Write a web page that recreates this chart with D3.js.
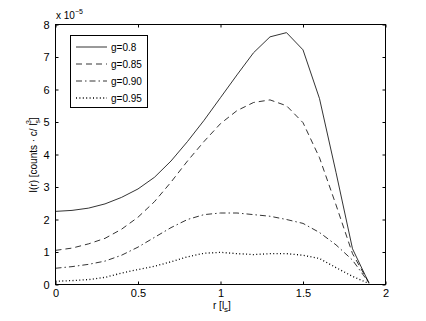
<!DOCTYPE html>
<html><head><meta charset="utf-8">
<script src="https://cdn.jsdelivr.net/npm/d3@7"></script>
<style>body{margin:0;background:#fff}svg{display:block}text{font-family:"Liberation Sans",Arial,sans-serif;fill:#000}</style>
</head><body><svg id="c" width="426" height="321"></svg>
<script>
const r = [0,0.1,0.2,0.3,0.4,0.5,0.6,0.7,0.8,0.9,1.0,1.1,1.2,1.3,1.4,1.5,1.6,1.7,1.8,1.9];
const g080 = [2.25,2.28,2.35,2.48,2.68,2.94,3.3,3.8,4.4,5.05,5.75,6.45,7.13,7.62,7.75,7.22,5.72,3.45,1.1,0.04];
const g085 = [1.05,1.12,1.25,1.42,1.7,2.07,2.55,3.15,3.8,4.4,4.95,5.35,5.6,5.68,5.5,4.98,3.9,2.45,0.95,0.05];
const g090 = [0.5,0.55,0.62,0.72,0.9,1.15,1.45,1.75,2.0,2.15,2.2,2.2,2.15,2.1,2.0,1.88,1.6,1.22,0.75,0.05];
const g095 = [0.1,0.12,0.15,0.22,0.35,0.46,0.56,0.7,0.85,0.96,0.99,0.95,0.92,0.95,0.95,0.9,0.8,0.52,0.25,0.03];
const seriesNames = ["g=0.8","g=0.85","g=0.90","g=0.95"];
const xTicks = [0,0.5,1,1.5,2];
const yTicks = [0,1,2,3,4,5,6,7,8];

const series = [g080,g085,g090,g095];
const dashes = [null,"6,4","6,3,1.5,3","1,2.4"];
const svg = d3.select("#c");
const L=55.5,R=385.5,T=24.5,B=284.5;
const x = d3.scaleLinear().domain([0,2]).range([L,R]);
const y = d3.scaleLinear().domain([0,8]).range([B,T]);

const line = d3.line().x((d,i)=>x(r[i])).y(d=>y(d));
series.forEach((s,k)=>{
  svg.append("path").attr("d",line(s)).attr("fill","none").attr("stroke","#000")
    .attr("stroke-width", k===3?1.3:0.8).attr("stroke-dasharray",dashes[k]);
});

// axes box
svg.append("rect").attr("x",L).attr("y",T).attr("width",R-L).attr("height",B-T)
  .attr("fill","none").attr("stroke","#000").attr("stroke-width",1);

const fs = 11;
svg.append("g").attr("transform",`translate(0,${B})`)
  .call(d3.axisBottom(x).tickValues(xTicks).tickSizeInner(-3).tickSizeOuter(0).tickPadding(5).tickFormat(d3.format("")))
  .call(g=>{g.select(".domain").remove();g.selectAll("text").attr("font-size",fs).attr("font-family","Liberation Sans, Arial");});
svg.append("g").attr("transform",`translate(0,${T})`)
  .call(d3.axisTop(x).tickValues(xTicks).tickSizeInner(-3).tickSizeOuter(0).tickFormat(""))
  .call(g=>g.select(".domain").remove());
svg.append("g").attr("transform",`translate(${L},0)`)
  .call(d3.axisLeft(y).tickValues(yTicks).tickSizeInner(-3).tickSizeOuter(0).tickPadding(6))
  .call(g=>{g.select(".domain").remove();g.selectAll("text").attr("font-size",fs).attr("font-family","Liberation Sans, Arial");});
svg.append("g").attr("transform",`translate(${R},0)`)
  .call(d3.axisRight(y).tickValues(yTicks).tickSizeInner(-3).tickSizeOuter(0).tickFormat(""))
  .call(g=>g.select(".domain").remove());

// exponent
const ex = svg.append("text").attr("x",56).attr("y",19).attr("font-size",10);
ex.append("tspan").text("x 10");
ex.append("tspan").attr("dy",-5).attr("font-size",7).text("−5");

// x label
const xl = svg.append("text").attr("x",213).attr("y",309).attr("font-size",10);
xl.append("tspan").text("r [l");
xl.append("tspan").attr("dy",3).attr("font-size",8).text("s");
xl.append("tspan").attr("dy",-3).text("]");

// y label
const yl = svg.append("text").attr("transform","translate(37,155) rotate(-90)").attr("text-anchor","middle").attr("font-size",10);
yl.append("tspan").text("I(r) [counts · c/ l");
yl.append("tspan").attr("dy",3).attr("font-size",7).text("s");
yl.append("tspan").attr("dx",-4).attr("dy",-9).attr("font-size",7).text("3");
yl.append("tspan").attr("dy",6).text("]");

// legend
svg.append("rect").attr("x",70.5).attr("y",35.5).attr("width",77).attr("height",72)
  .attr("fill","#fff").attr("stroke","#000").attr("stroke-width",1);
seriesNames.forEach((n,k)=>{
  const yy = 47+k*17;
  svg.append("line").attr("x1",76).attr("x2",107).attr("y1",yy).attr("y2",yy)
    .attr("stroke","#000").attr("stroke-width",k===3?1.3:0.8).attr("stroke-dasharray",dashes[k]);
  svg.append("text").attr("x",111).attr("y",yy+4).attr("font-size",10).text(n);
});
</script></body></html>
